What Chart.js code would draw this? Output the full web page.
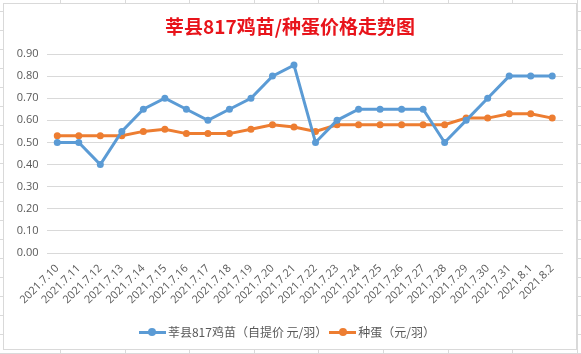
<!DOCTYPE html>
<html><head><meta charset="utf-8">
<script src="https://cdn.jsdelivr.net/npm/chart.js@4/dist/chart.umd.min.js"></script>
<style>
html,body{margin:0;padding:0;width:581px;height:354px;overflow:hidden;}
body{position:relative;background-color:#fff;
background-image:
 repeating-linear-gradient(to right, transparent 0, transparent 60px, #dadada 60px, #dadada 61px, transparent 61px, transparent 64.6px),
 repeating-linear-gradient(to bottom, transparent 0, transparent 11px, #dadada 11px, #dadada 12px, transparent 12px, transparent 19px);}
#frame{position:absolute;left:3px;top:3px;width:574px;height:347px;box-sizing:border-box;border:1px solid #d9d9d9;background:#fff;}
#wrap{position:absolute;left:0;top:0;width:572px;height:345px;}
#title{position:absolute;left:0;width:572px;top:9px;text-align:center;font-family:"Noto Sans CJK SC",sans-serif;font-weight:bold;font-size:19px;color:#E8141B;line-height:26px;}
#legend{position:absolute;left:0;width:566px;top:317px;text-align:center;font-family:"Noto Sans CJK SC",sans-serif;font-size:12px;color:#595959;line-height:18px;white-space:nowrap;}
.li{display:inline-block;vertical-align:middle;margin:0 1px;}
.sw{display:inline-block;position:relative;width:27px;height:10px;vertical-align:middle;margin-right:2px;top:-1px;}
.sw i{position:absolute;left:0;top:3.5px;width:27px;height:3px;}
.sw b{position:absolute;left:9.5px;top:1px;width:8px;height:8px;border-radius:50%;}
</style></head>
<body>
<div id="frame">
<div id="wrap"><canvas id="c"></canvas></div>
<div id="title">莘县817鸡苗/种蛋价格走势图</div>
<div id="legend"></div>
</div>
<script>
const categories = ["2021.7.10","2021.7.11","2021.7.12","2021.7.13","2021.7.14","2021.7.15","2021.7.16","2021.7.17","2021.7.18","2021.7.19","2021.7.20","2021.7.21","2021.7.22","2021.7.23","2021.7.24","2021.7.25","2021.7.26","2021.7.27","2021.7.28","2021.7.29","2021.7.30","2021.7.31","2021.8.1","2021.8.2"];
const chickPrice = [0.50,0.50,0.40,0.55,0.65,0.70,0.65,0.60,0.65,0.70,0.80,0.85,0.50,0.60,0.65,0.65,0.65,0.65,0.50,0.60,0.70,0.80,0.80,0.80];
const eggPrice = [0.53,0.53,0.53,0.53,0.55,0.56,0.54,0.54,0.54,0.56,0.58,0.57,0.55,0.58,0.58,0.58,0.58,0.58,0.58,0.61,0.61,0.63,0.63,0.61];
const seriesNames = ["莘县817鸡苗（自提价 元/羽）","种蛋（元/羽）"];
const seriesColors = ["#5B9BD5","#ED7D31"];
const yTicks = [0,0.1,0.2,0.3,0.4,0.5,0.6,0.7,0.8,0.9];

const font = {family:"'Open Sans', sans-serif", size:11};
const data = {
  labels: categories,
  datasets: [chickPrice, eggPrice].map((d,i)=>({
    label: seriesNames[i], data: d,
    borderColor: seriesColors[i], backgroundColor: seriesColors[i],
    borderWidth: 3, pointRadius: 3.5, pointHoverRadius: 3.5,
    pointBorderWidth: 0, tension: 0, fill: false
  }))
};
new Chart(document.getElementById('c'), {
  type: 'line',
  data,
  options: {
    responsive: true, maintainAspectRatio: false, animation: false,
    layout: {padding: {top: 50, right: 13, left: 0, bottom: 0}},
    plugins: {legend: {display: false}, title: {display: false}, tooltip: {enabled: false}},
    scales: {
      x: {
        offset: true,
        grid: {display: false, drawTicks: false},
        border: {display: false},
        ticks: {color: '#595959', font, minRotation: 45, maxRotation: 45, padding: 9, autoSkip: false},
        afterFit: s => { s.height = 96; }
      },
      y: {
        min: 0, max: 0.9,
        afterBuildTicks: s => { s.ticks = yTicks.map(v => ({value: v})); },
        grid: {color: '#D9D9D9', lineWidth: 1, drawTicks: false},
        border: {display: false},
        ticks: {color: '#595959', font, padding: 8, callback: v => Number(v).toFixed(2)},
        afterFit: s => { s.width = 42.5; }
      }
    }
  }
});
document.getElementById('legend').innerHTML = seriesNames.map((n,i)=>
  `<span class="li"><span class="sw"><i style="background:${seriesColors[i]}"></i><b style="background:${seriesColors[i]}"></b></span>${n}</span>`).join('');
</script>
</body></html>
